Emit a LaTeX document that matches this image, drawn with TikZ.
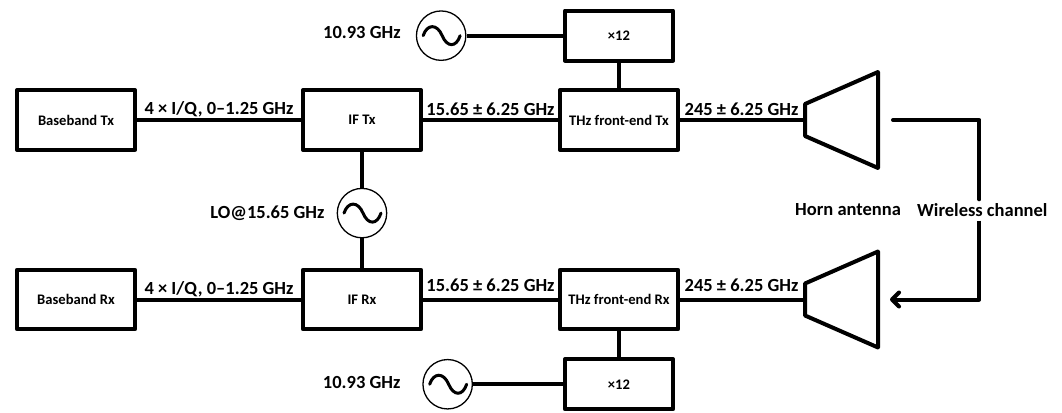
\documentclass[tikz,border=0pt]{standalone}
\usepackage{fontspec}
\setmainfont{Carlito}
\usetikzlibrary{shapes.geometric, arrows.meta, positioning}

\begin{document}
\begin{tikzpicture}[
	box/.style={rectangle, line join=round, minimum width=118pt, minimum height=59.5pt, align=center, draw=black, line width=4pt, font=\fontsize{14.6pt}{16pt}\selectfont\bfseries},
	mult/.style={box, minimum width=108pt, minimum height=50pt},
	osc/.style={circle, draw=black, line width=1.3pt, minimum size=49.4pt, inner sep=0pt, path picture={
		\draw[line width=3pt, line cap=round] ([xshift=-18pt]path picture bounding box.center) .. controls +(4pt,12pt) and +(-5pt,12pt) .. ([xshift=1pt]path picture bounding box.center) .. controls +(5pt,-12pt) and +(-4pt,-12pt) .. ([xshift=19pt]path picture bounding box.center);}},
	horn/.style={trapezium, trapezium left angle=45, trapezium right angle=45, trapezium stretches=true, shape border rotate=90, draw=black, line width=4pt, line join=round, inner sep=2pt, minimum width=96pt, minimum height=73pt},
	link/.style={line width=4pt},
	arrow/.style={-{Straight Barb[length=7pt, width=14pt, round]}, line width=4pt, line join=round},
	label/.style={font=\fontsize{18.5pt}{20pt}\selectfont\bfseries, inner sep=0pt},
	edge/.style={label, midway, anchor=base, yshift=#1}
	]
	\useasboundingbox (0,0) rectangle (1062pt,-412pt);

	\node (bbtx) [box] at (76pt,-120pt) {Baseband Tx};
	\node (iftx) [box, right=164pt of bbtx] {IF Tx};
	\node (thztx) [box, right=135pt of iftx] {THz front-end Tx};
	\node (hptx) [mult, above=25.6pt of thztx] {×12};
	\node (osctx) [osc, left=96.5pt of hptx] {};
	\node (ftx) [label, left=15pt of osctx, yshift=3pt] {10.93 GHz};
	\node (horntx) [horn, right=123pt of thztx] {};

	\node (lo) [osc, below=36pt of iftx] {};
	\node (flo) [label, left=12pt of lo] {LO@15.65 GHz};

	\node (bbrx) [box, below=116pt of bbtx] {Baseband Rx};
	\node (ifrx) [box, below=116pt of iftx] {IF Rx};
	\node (thzrx) [box, below=116pt of thztx] {THz front-end Rx};
	\node (hprx) [mult, below=26pt of thzrx] {×12};
	\node (oscrx) [osc, left=90pt of hprx] {};
	\node (frx) [label, left=21.7pt of oscrx, yshift=2pt] {10.93 GHz};
	\node (hornrx) [horn, right=123pt of thzrx] {};

	\node (hornlabel) [label, right=-85pt of horntx, yshift=-90pt] {Horn antenna};
	\node (chan) [label, minimum height=21pt, right=37pt of horntx, yshift=-90pt] {Wireless channel};
	\coordinate (chtx) at ([xshift=13pt]horntx.east);
	\coordinate (chrx) at ([xshift=10pt]hornrx.east);

	\draw [link] (bbtx) -- node[edge=6pt] {4 × I/Q, 0–1.25 GHz} (iftx);
	\draw [link] (iftx) -- node[edge=4.5pt] {15.65 ± 6.25 GHz} (thztx);
	\draw [link] (thztx) -- node[edge=5pt] {245 ± 6.25 GHz} (horntx.west);
	\draw [link] (bbrx) -- node[edge=5pt] {4 × I/Q, 0–1.25 GHz} (ifrx);
	\draw [link] (ifrx) -- node[edge=8.5pt] {15.65 ± 6.25 GHz} (thzrx);
	\draw [link] (thzrx) -- node[edge=8.5pt] {245 ± 6.25 GHz} (hornrx.west);
	\draw [link] (osctx) -- (hptx);
	\draw [link] (hptx) -- (hptx |- thztx.north);
	\draw [link] (oscrx) -- (hprx);
	\draw [link] (hprx) -- (hprx |- thzrx.south);
	\draw [link] (iftx) -- (lo);
	\draw [link] (lo) -- (ifrx);
	\draw [link, line cap=round, line join=round] (chtx) -| ([xshift=-3pt]chan.north);
	\draw [arrow] ([xshift=-3pt]chan.south) |- (chrx);
\end{tikzpicture}
\end{document}
